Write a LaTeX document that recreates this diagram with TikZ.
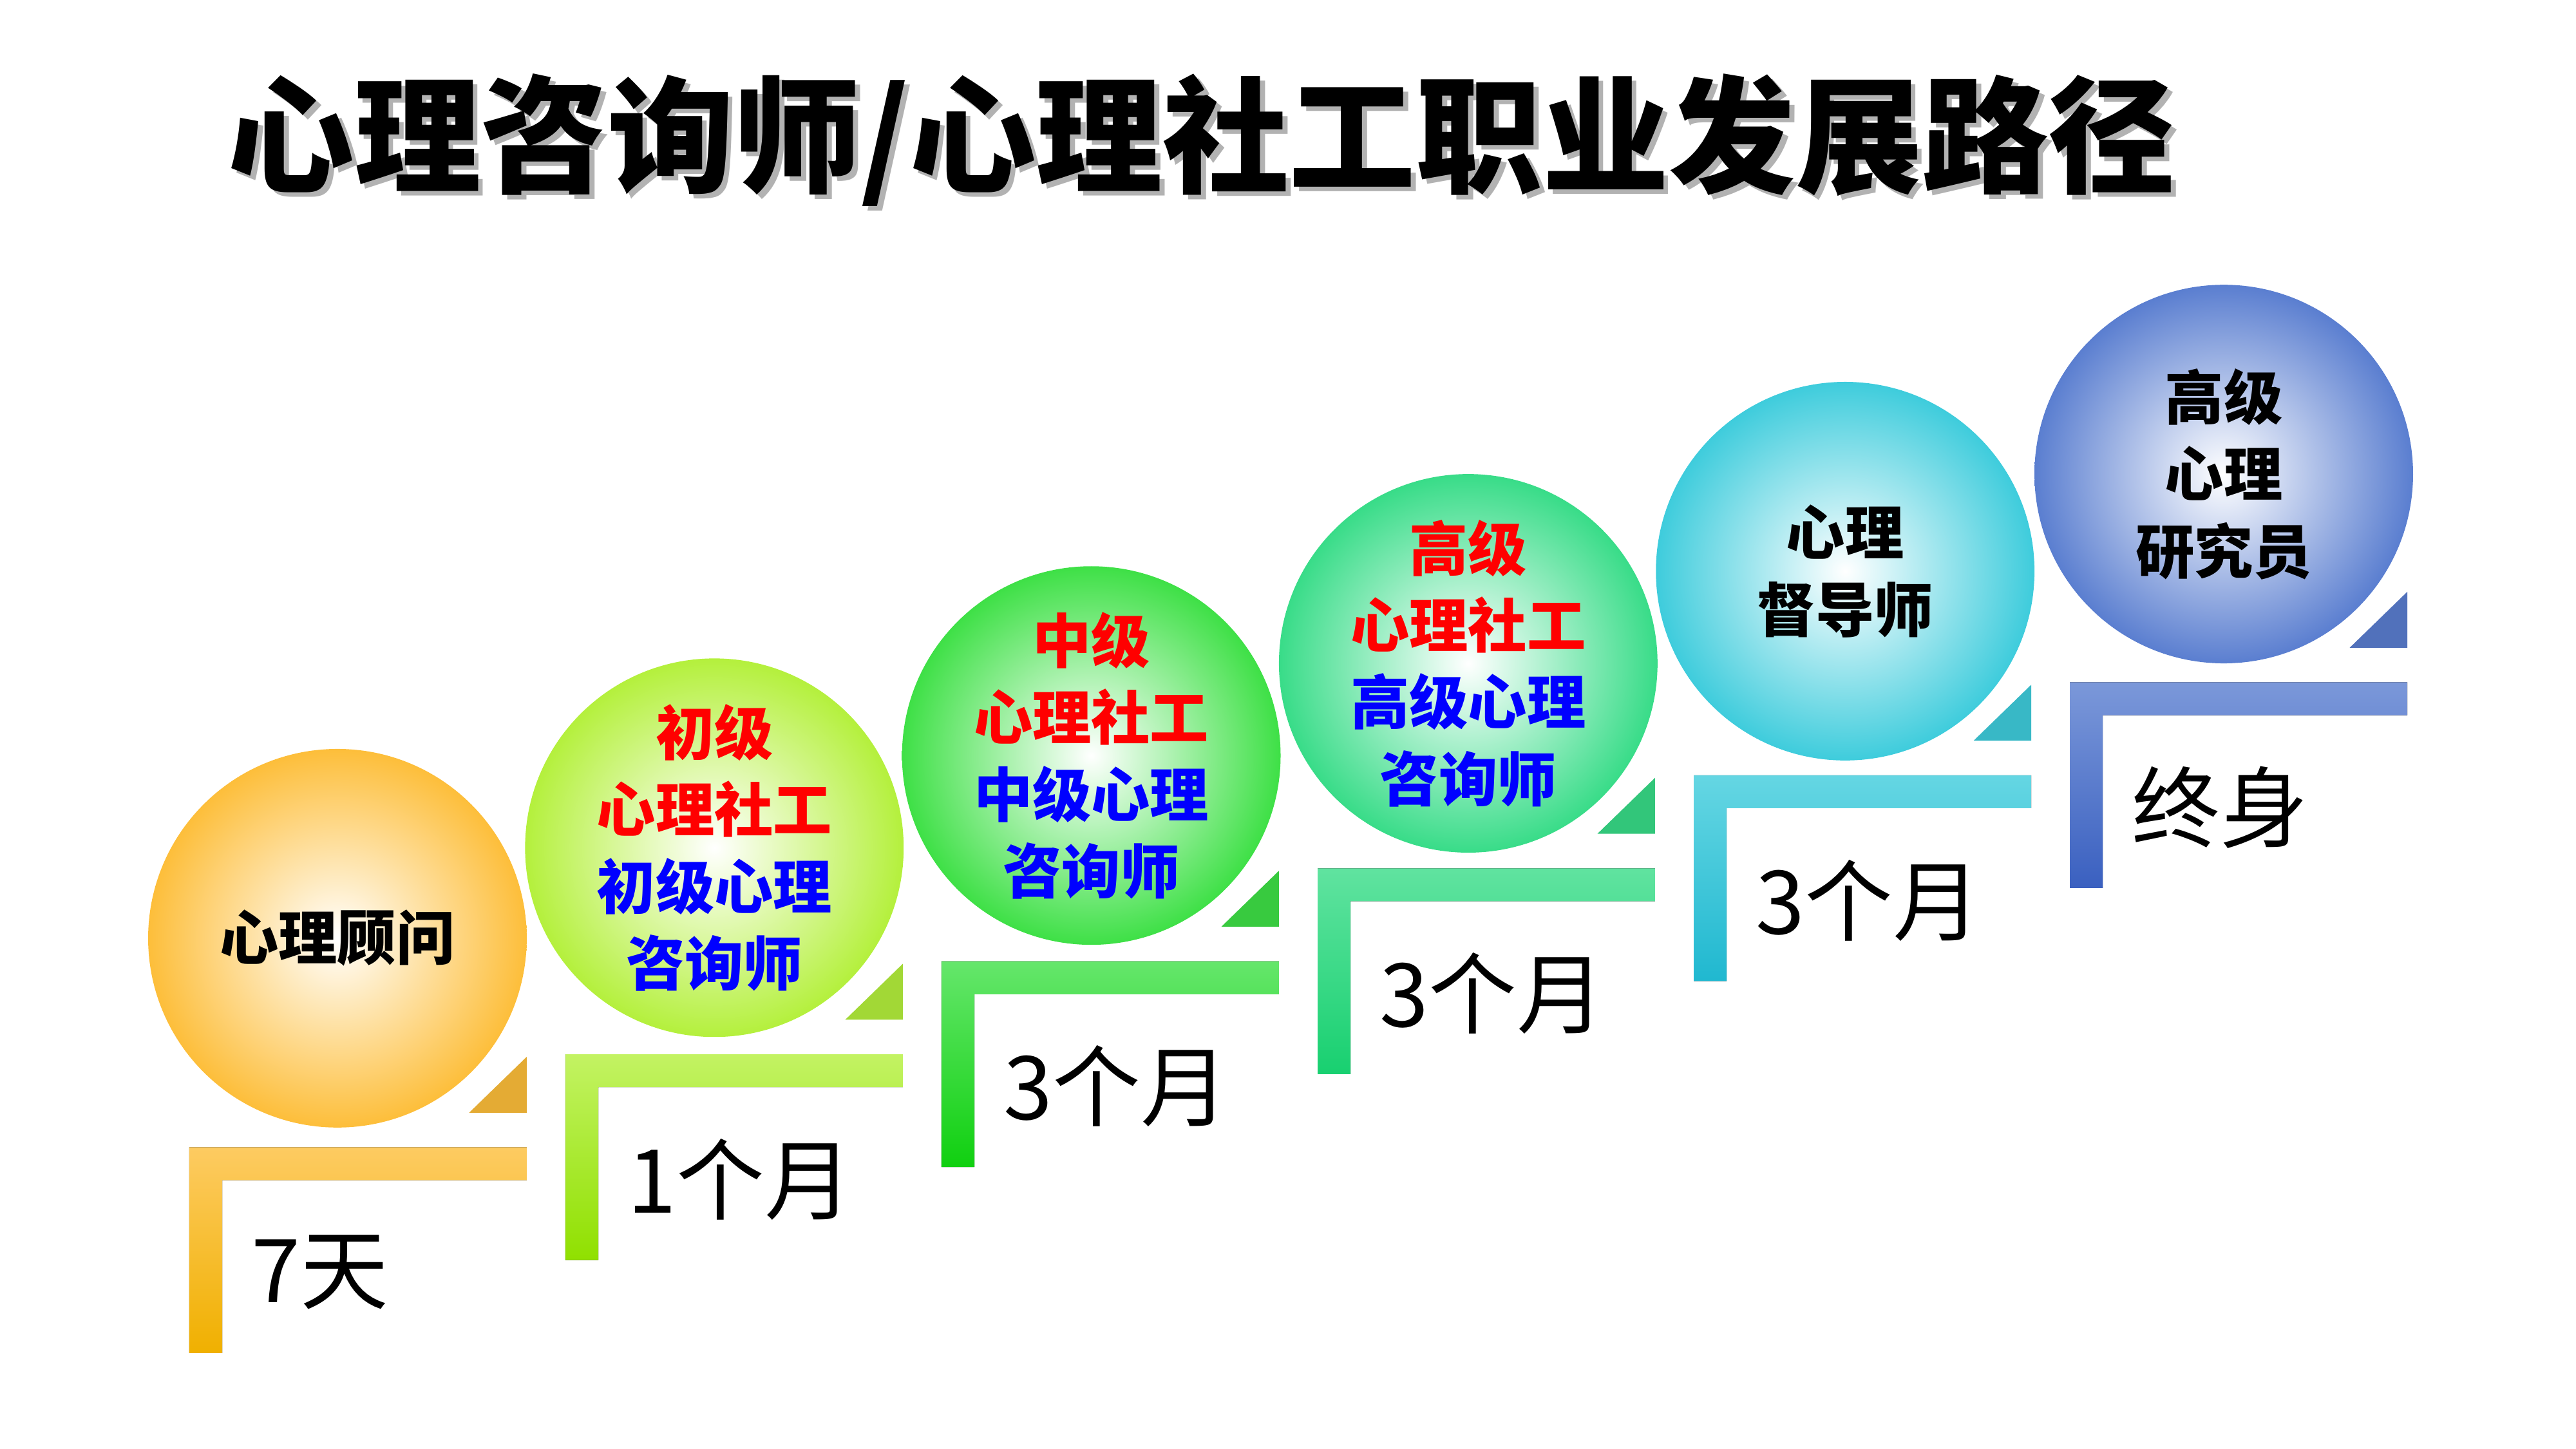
\documentclass[tikz,border=0pt]{standalone}
\usepackage{fontspec}
\setmainfont{Noto Sans CJK SC}
\newfontfamily\cjk{Noto Sans CJK SC}
\begin{document}
\begin{tikzpicture}[x=0.025592cm,y=-0.025592cm,
  ball/.style={circle,minimum size=230*0.025592cm,inner sep=0pt,align=center,font=\cjk\bfseries\fontsize{26}{34}\selectfont},
  lab/.style={font=\cjk\fontsize{39}{44}\selectfont,anchor=west}]
\useasboundingbox (0,0) rectangle (1565,880.3);
\definecolor{c1}{HTML}{FDBE3A}\definecolor{d1}{HTML}{F0B000}
\definecolor{c2}{HTML}{B4F03C}\definecolor{d2}{HTML}{90E000}
\definecolor{c3}{HTML}{3EE046}\definecolor{d3}{HTML}{10D010}
\definecolor{c4}{HTML}{38DC88}\definecolor{d4}{HTML}{18D070}
\definecolor{c5}{HTML}{3ECCDC}\definecolor{d5}{HTML}{20B8D0}
\definecolor{c6}{HTML}{5A7ED0}\definecolor{d6}{HTML}{3A60C0}
\node[font=\cjk\bfseries\fontsize{56}{60}\selectfont,text=gray!60] at (733,88) {心理咨询师/心理社工职业发展路径};
\node[font=\cjk\bfseries\fontsize{56}{60}\selectfont] (title) at (730,85) {心理咨询师/心理社工职业发展路径};
\foreach \i/\t in {1/7天,2/1个月,3/3个月,4/3个月,5/3个月,6/终身}{
  \pgfmathsetmacro\ox{(\i-1)*228.5}
  \pgfmathsetmacro\oy{-(\i-1)*56.5}
  \begin{scope}[shift={(\ox,\oy)}]
    \fill[top color=c\i!80!white,bottom color=d\i] (115,697) -- (320,697) -- (320,717) -- (135,717) -- (135,822) -- (115,822) -- cycle;
    \fill[c\i!90!black] (285,676) -- (320,676) -- (320,642) -- cycle;
    \node[lab] (lab\i) at (148,773) {\t};
  \end{scope}
}
\node[ball,inner color=white,outer color=c1] (b1) at (205,570) {心理顾问};
\node[ball,inner color=white,outer color=c2] (b2) at (434,515) {\textcolor{red}{初级}\\\textcolor{red}{心理社工}\\\textcolor{blue}{初级心理}\\\textcolor{blue}{咨询师}};
\node[ball,inner color=white,outer color=c3] (b3) at (663,459) {\textcolor{red}{中级}\\\textcolor{red}{心理社工}\\\textcolor{blue}{中级心理}\\\textcolor{blue}{咨询师}};
\node[ball,inner color=white,outer color=c4] (b4) at (892,403) {\textcolor{red}{高级}\\\textcolor{red}{心理社工}\\\textcolor{blue}{高级心理}\\\textcolor{blue}{咨询师}};
\node[ball,inner color=white,outer color=c5] (b5) at (1121,347) {心理\\督导师};
\node[ball,inner color=white,outer color=c6] (b6) at (1351,288) {高级\\心理\\研究员};
\end{tikzpicture}
\end{document}
